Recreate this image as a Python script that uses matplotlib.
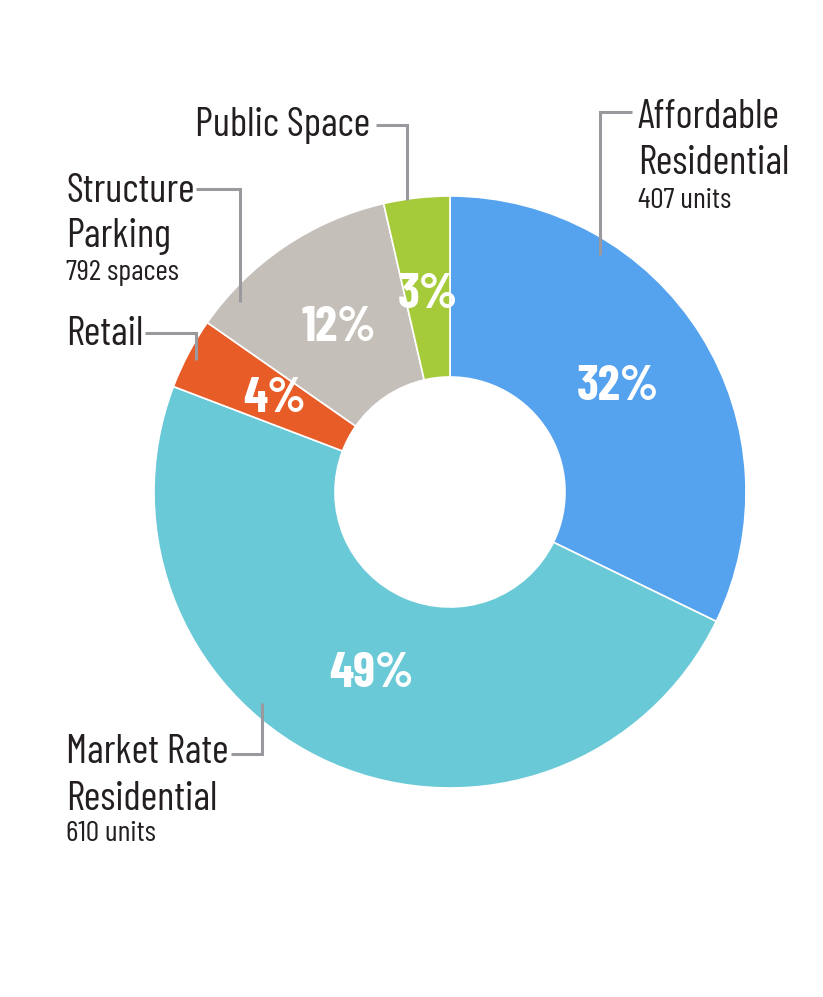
import matplotlib
matplotlib.use('Agg')
import matplotlib.pyplot as plt
from matplotlib import font_manager

# slice data, clockwise from 12 o'clock
names = ['Affordable Residential', 'Market Rate Residential', 'Retail',
         'Structure Parking', 'Public Space']
shares = [32.2, 48.6, 3.9, 11.7, 3.6]
pct_labels = ['32%', '49%', '4%', '12%', '3%']
colors = ['#55a2ee', '#6ac9d7', '#e85c27', '#c4bfb9', '#a6cb3a']

installed = set(f.name for f in font_manager.fontManager.ttflist)
if 'Barlow Condensed' in installed:
    plt.rcParams['font.family'] = ['Barlow Condensed', 'DejaVu Sans']
    scale = 1.0
else:
    plt.rcParams['font.family'] = ['Roboto', 'DejaVu Sans']
    scale = 0.75

W, H = 823, 997
fig = plt.figure(figsize=(W / 100, H / 100), dpi=100)
ax = fig.add_axes([0, 0, 1, 1])

cx, cy, R, r_in = 450, 492, 296, 115

# y axis is inverted (pixel coords from top), so visual clockwise = counterclock here
wedges, texts = ax.pie(shares, labels=pct_labels, colors=colors,
                       center=(cx, cy), radius=R, startangle=-90,
                       counterclock=True, labeldistance=0.67,
                       wedgeprops=dict(width=R - r_in, edgecolor='white', linewidth=1.2),
                       textprops=dict(color='white', fontsize=36 * scale, fontweight='bold'))
for t in texts:
    t.set_ha('center')
    t.set_va('center')

ax.set_xlim(0, W)
ax.set_ylim(H, 0)
ax.set_aspect('equal')
ax.axis('off')

dark = '#231f20'
lc = '#9a9a9e'
lw = 2.2

def leader(pts):
    xs = [p[0] for p in pts]
    ys = [p[1] for p in pts]
    ax.plot(xs, ys, color=lc, lw=lw, solid_joinstyle='miter', solid_capstyle='butt')

big = 29 * scale
small = 21.5 * scale

# Affordable Residential
ax.text(638, 118, 'Affordable', fontsize=big, color=dark, ha='left', va='center')
ax.text(638, 164, 'Residential', fontsize=big, color=dark, ha='left', va='center')
ax.text(638, 201, '407 units', fontsize=small, color=dark, ha='left', va='center')
leader([(632, 112), (600, 112), (600, 255)])

# Public Space
ax.text(370, 126, 'Public Space', fontsize=big, color=dark, ha='right', va='center')
leader([(376, 125), (407, 125), (407, 200)])

# Structure Parking
ax.text(66, 191, 'Structure', fontsize=big, color=dark, ha='left', va='center')
ax.text(66, 236, 'Parking', fontsize=big, color=dark, ha='left', va='center')
ax.text(66, 273, '792 spaces', fontsize=small, color=dark, ha='left', va='center')
leader([(196, 189), (240, 189), (240, 302)])

# Retail
ax.text(66, 334, 'Retail', fontsize=big, color=dark, ha='left', va='center')
leader([(145, 333), (196, 333), (196, 360)])

# Market Rate Residential
ax.text(66, 752, 'Market Rate', fontsize=big, color=dark, ha='left', va='center')
ax.text(66, 799, 'Residential', fontsize=big, color=dark, ha='left', va='center')
ax.text(66, 834, '610 units', fontsize=small, color=dark, ha='left', va='center')
leader([(231, 754), (262, 754), (262, 703)])

fig.savefig('out.png', dpi=100, facecolor='white')
